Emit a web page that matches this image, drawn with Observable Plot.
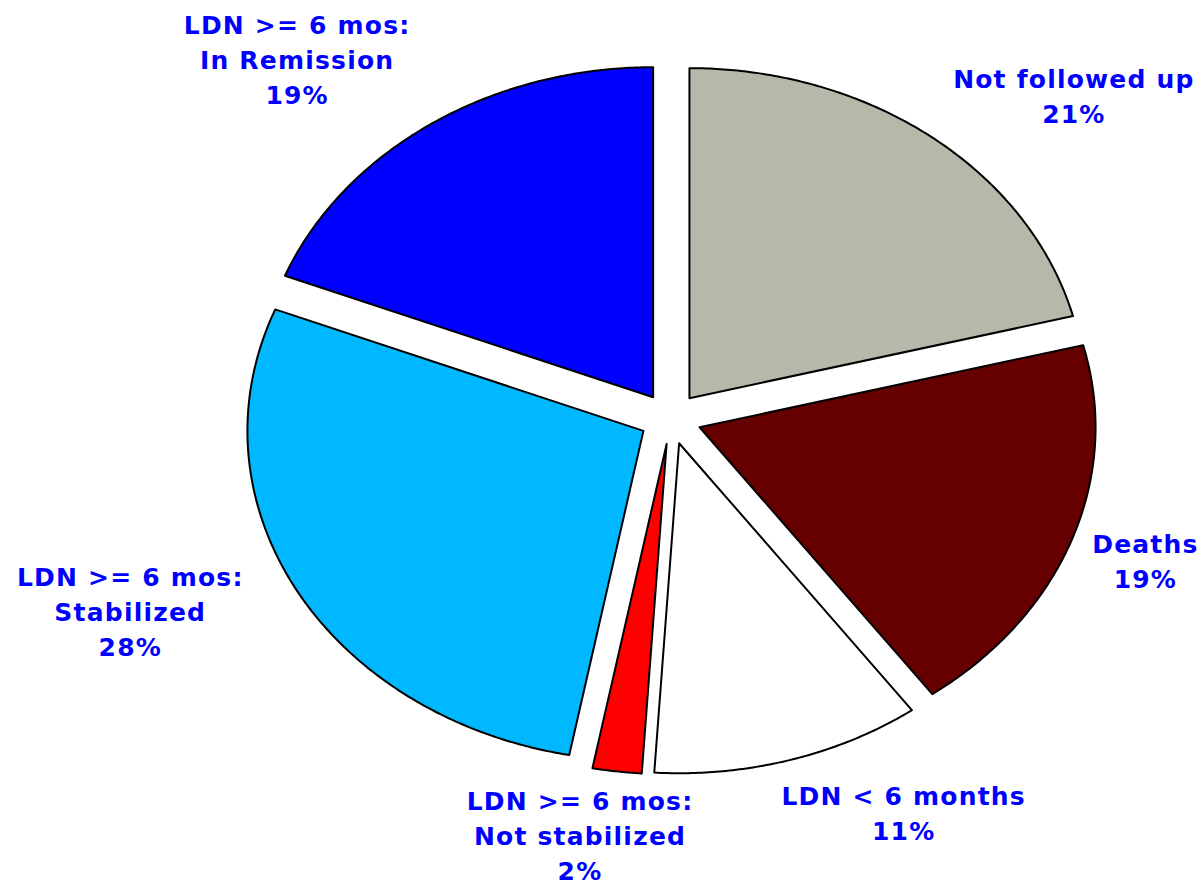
<!DOCTYPE html>
<html><head><meta charset="utf-8">
<script src="https://cdn.jsdelivr.net/npm/d3@7"></script>
<script src="https://cdn.jsdelivr.net/npm/@observablehq/plot@0.6"></script>
<style>body{margin:0;background:#fff;}</style>
</head><body><div id="chart"></div>
<script>
// ---- data ----
const categories = ["Not followed up", "Deaths", "LDN < 6 months", "LDN >= 6 mos:\nNot stabilized", "LDN >= 6 mos:\nStabilized", "LDN >= 6 mos:\nIn Remission"];
const percents = [21, 19, 11, 2, 28, 19];
const colors = ["#b8b8aa", "#660000", "#ffffff", "#ff0000", "#00b8ff", "#0000ff"];

// ---- layout (label placement relative to slice mid-angle) ----
const explode = 0.078;
const labelRadius = [1.416, 1.273, 1.329, 1.278, 1.482, 1.443];
const labelNudge = [8.2, -0.2, -10.1, 3.1, 5.8, -6.6];

const total = d3.sum(percents);
let acc = 0;
const rad = d => d * Math.PI / 180;
const slices = percents.map((p, i) => {
  const a0 = acc / total * 360; acc += p; const a1 = acc / total * 360;
  const mid = (a0 + a1) / 2;
  const la = mid + labelNudge[i];
  return {i, name: categories[i], pct: p, a0, a1, mid,
    lx: labelRadius[i] * Math.sin(rad(la)), ly: labelRadius[i] * Math.cos(rad(la))};
});
const pts = [];
slices.forEach(s => {
  const ox = explode * Math.sin(rad(s.mid)), oy = explode * Math.cos(rad(s.mid));
  pts.push({slice: s.name, x: ox, y: oy});
  const n = Math.max(2, Math.ceil((s.a1 - s.a0) / 0.5));
  for (let k = 0; k <= n; k++) {
    const a = s.a0 + (s.a1 - s.a0) * k / n;
    pts.push({slice: s.name, x: ox + Math.sin(rad(a)), y: oy + Math.cos(rad(a))});
  }
});

const chart = Plot.plot({
  width: 1204, height: 888,
  margin: 0,
  x: {domain: [-1, 1], range: [274, 1066], axis: null},
  y: {domain: [-1, 1], range: [748, 88], axis: null},
  style: {letterSpacing: "1.2px", background: "#fff"},
  marks: [
    ...slices.map(s => Plot.line(pts.filter(p => p.slice === s.name), {
      x: "x", y: "y", fill: colors[s.i], stroke: "#000", strokeWidth: 2, curve: "linear-closed"
    })),
    Plot.text(slices, {
      x: "lx", y: "ly", text: d => d.name + "\n" + d.pct + "%",
      fontSize: 25, fontWeight: "bold", fontFamily: "DejaVu Sans", fill: "#0000ff",
      lineHeight: 1.4, textAnchor: "middle", lineAnchor: "middle"
    })
  ]
});
document.getElementById("chart").appendChild(chart);
</script>
</body></html>
